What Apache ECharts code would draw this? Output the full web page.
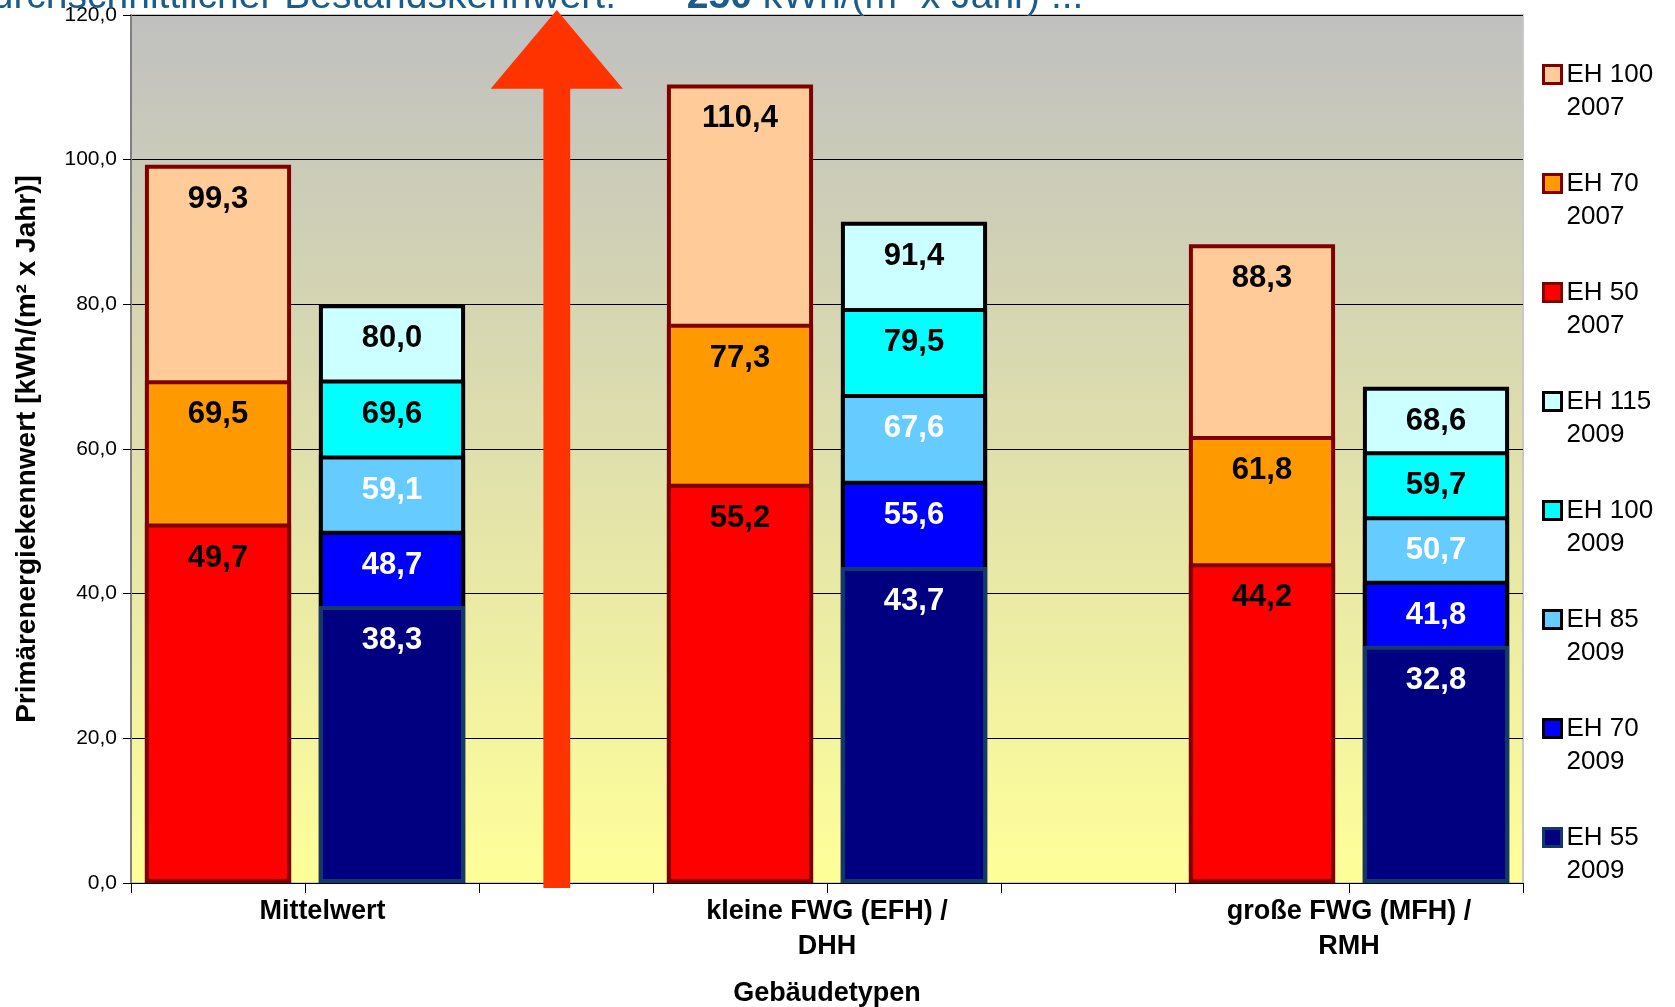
<!DOCTYPE html>
<html>
<head>
<meta charset="utf-8">
<title>Primärenergiekennwert nach Gebäudetypen</title>
<script src="https://cdn.jsdelivr.net/npm/echarts@6/dist/echarts.min.js"></script>
<style>
  html, body { margin: 0; padding: 0; background: #ffffff; }
  #chart { width: 1675px; height: 1007px; }
</style>
</head>
<body>
<div id="chart"></div>
<script>
// Bar slots along the x axis: one slot per building standard year, empty slots as spacers
const categories = ['Mittelwert 2007', 'Mittelwert 2009', 'Lücke 1', 'kleine FWG 2007', 'kleine FWG 2009', 'Lücke 2', 'große FWG 2007', 'große FWG 2009'];

// Group labels under the bar pairs (positions in slot units along the axis)
const groupLabels = ['Mittelwert', 'kleine FWG (EFH) /\nDHH', 'große FWG (MFH) /\nRMH'];
const groupLabelPositions = [1.1, 4, 7];

// Y axis ticks
const yTicks = { min: 0, max: 120, interval: 20 };

// Series values (kWh/(m² x Jahr)); each bar overlays the next smaller standard
const eh100_2007 = [99.3, '-', '-', 110.4, '-', '-', 88.3, '-'];
const eh70_2007  = [69.5, '-', '-', 77.3,  '-', '-', 61.8, '-'];
const eh50_2007  = [49.7, '-', '-', 55.2,  '-', '-', 44.2, '-'];
const eh115_2009 = ['-', 80.0, '-', '-', 91.4, '-', '-', 68.6];
const eh100_2009 = ['-', 69.6, '-', '-', 79.5, '-', '-', 59.7];
const eh85_2009  = ['-', 59.1, '-', '-', 67.6, '-', '-', 50.7];
const eh70_2009  = ['-', 48.7, '-', '-', 55.6, '-', '-', 41.8];
const eh55_2009  = ['-', 38.3, '-', '-', 43.7, '-', '-', 32.8];

const seriesDefs = [
  { name: 'EH 100 2007', data: eh100_2007, color: '#FFCC99', border: '#800000', label: '#000000' },
  { name: 'EH 70 2007',  data: eh70_2007,  color: '#FF9900', border: '#800000', label: '#000000' },
  { name: 'EH 50 2007',  data: eh50_2007,  color: '#FF0000', border: '#800000', label: '#000000' },
  { name: 'EH 115 2009', data: eh115_2009, color: '#CCFFFF', border: '#000000', label: '#000000' },
  { name: 'EH 100 2009', data: eh100_2009, color: '#00FFFF', border: '#000000', label: '#000000' },
  { name: 'EH 85 2009',  data: eh85_2009,  color: '#66CCFF', border: '#000000', label: '#FFFFFF' },
  { name: 'EH 70 2009',  data: eh70_2009,  color: '#0000FF', border: '#000000', label: '#FFFFFF' },
  { name: 'EH 55 2009',  data: eh55_2009,  color: '#000080', border: '#12396A', label: '#FFFFFF' }
];

// Upward arrow in the spacer slot, in axis units (x: slot units, y: kWh)
const arrowShape = { x: 2.447, headHalf: 0.38, shaftHalf: 0.077, bottom: -0.7, headBase: 109.8, tip: 120.7 };

const FONT = "'Liberation Sans', Arial, Helvetica, sans-serif";
const fmt = v => Number(v).toFixed(1).replace('.', ',');

const chart = echarts.init(document.getElementById('chart'), null, { renderer: 'canvas' });

const option = {
  animation: false,
  backgroundColor: '#ffffff',
  textStyle: { fontFamily: FONT },
  grid: {
    left: 131, right: 152, top: 15, bottom: 124,
    outerBoundsMode: 'none',
    show: true,
    borderColor: '#C8C8C8',
    borderWidth: 2,
    backgroundColor: new echarts.graphic.LinearGradient(0, 0, 0, 1, [
      { offset: 0, color: '#C0C0C0' },
      { offset: 1, color: '#FFFF99' }
    ])
  },
  legend: {
    orient: 'vertical',
    left: 1537,
    top: 20,
    itemWidth: 18,
    itemHeight: 18,
    itemGap: 10,
    icon: 'rect',
    itemStyle: { borderWidth: 3 },
    textStyle: { fontFamily: FONT, fontSize: 26, color: '#000000', lineHeight: 33 },
    formatter: name => '\n' + name.replace(/ (\d{4})$/, '\n$1'),
    data: seriesDefs.map(s => s.name)
  },
  xAxis: [
    {
      type: 'category',
      data: categories,
      position: 'bottom',
      boundaryGap: true,
      axisLine: { show: true, lineStyle: { color: '#000000', width: 1 } },
      axisTick: { show: true, length: 10, lineStyle: { color: '#000000' } },
      axisLabel: { show: false },
      splitLine: { show: false },
      name: 'Gebäudetypen',
      nameLocation: 'middle',
      nameGap: 97,
      nameTextStyle: { fontFamily: FONT, fontSize: 27, fontWeight: 'bold', color: '#000000' }
    },
    {
      type: 'value',
      min: 0,
      max: categories.length,
      position: 'bottom',
      axisLine: { show: false },
      axisTick: { show: false },
      splitLine: { show: false },
      axisLabel: {
        show: true,
        customValues: groupLabelPositions,
        margin: 11,
        fontFamily: FONT,
        fontSize: 27,
        fontWeight: 'bold',
        lineHeight: 35,
        color: '#000000',
        formatter: v => {
          const i = groupLabelPositions.indexOf(v);
          return i >= 0 ? groupLabels[i] : '';
        }
      }
    }
  ],
  yAxis: {
    type: 'value',
    min: yTicks.min,
    max: yTicks.max,
    interval: yTicks.interval,
    axisLine: { show: true, lineStyle: { color: '#808080', width: 2 } },
    axisTick: { show: true, length: 8, lineStyle: { color: '#000000' } },
    axisLabel: {
      margin: 14,
      fontFamily: FONT,
      fontSize: 21,
      color: '#000000',
      formatter: v => fmt(v)
    },
    splitLine: { show: true, lineStyle: { color: '#000000', width: 1 } },
    name: 'Primärenergiekennwert [kWh/(m² x Jahr)]',
    nameLocation: 'middle',
    nameGap: 90,
    nameTextStyle: { fontFamily: FONT, fontSize: 28, fontWeight: 'bold', color: '#000000' }
  },
  series: seriesDefs.map(s => ({
    type: 'bar',
    name: s.name,
    data: s.data,
    xAxisIndex: 0,
    barWidth: '84%',
    barGap: '-100%',
    itemStyle: { color: s.color, borderColor: s.border, borderWidth: 4 },
    label: {
      show: true,
      position: 'insideTop',
      distance: 19,
      fontFamily: FONT,
      fontSize: 31,
      fontWeight: 'bold',
      color: s.label,
      formatter: p => fmt(p.value)
    },
    emphasis: { disabled: true }
  }))
};

chart.setOption(option);

// Arrow and the heading line drawn on top of the plot
function px(xv, yv) {
  const x = chart.convertToPixel({ xAxisIndex: 1 }, xv);
  const y = chart.convertToPixel({ yAxisIndex: 0 }, yv);
  return [x, y];
}
const a = arrowShape;
const arrowPts = [
  px(a.x - a.shaftHalf, a.bottom),
  px(a.x - a.shaftHalf, a.headBase),
  px(a.x - a.headHalf, a.headBase),
  px(a.x, a.tip),
  px(a.x + a.headHalf, a.headBase),
  px(a.x + a.shaftHalf, a.headBase),
  px(a.x + a.shaftHalf, a.bottom)
];

const headingColor = '#1B5C8C';
chart.setOption({
  graphic: [
    {
      type: 'polygon',
      z: 100,
      shape: { points: arrowPts },
      style: { fill: '#FF3300', stroke: null }
    },
    {
      type: 'text',
      z: 100,
      x: -30,
      y: -3,
      style: {
        text: '{n|durchschnittlicher Bestandskennwert: }{b|250}{n| kWh/(m² x Jahr) ...}',
        verticalAlign: 'middle',
        rich: {
          n: { fontFamily: FONT, fontSize: 39, fill: headingColor, lineHeight: 42 },
          b: { fontFamily: FONT, fontSize: 39, fontWeight: 'bold', fill: headingColor, lineHeight: 42, padding: [0, 0, 0, 60] }
        }
      }
    }
  ]
});
</script>
</body>
</html>
